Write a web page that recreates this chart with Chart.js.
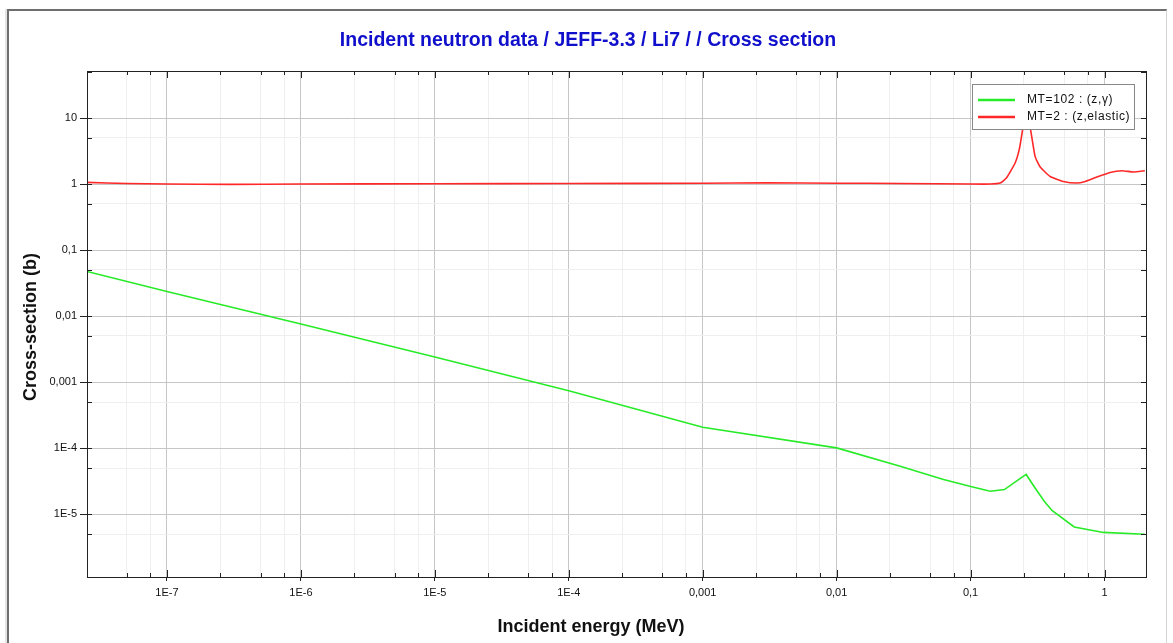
<!DOCTYPE html>
<html lang="en">
<head>
    <meta charset="UTF-8">
    <title>Incident neutron data / JEFF-3.3 / Li7 / / Cross section</title>
    <script src="https://cdn.jsdelivr.net/npm/chart.js"></script>
    <style>
        body {
            margin: 0;
            background-color: #fff;
        }
        .wrap {
            position: relative;
            width: 1173px;
            height: 643px;
            overflow: hidden;
        }
        .frame {
            position: absolute;
            left: 7px;
            top: 9px;
            width: 1157px;
            height: 700px;
            border-top: 2px solid #6e6e6e;
            border-left: 2px solid #6e6e6e;
            border-right: 1px solid #d4d4d4;
            box-shadow: -2px 0 0 #e4e4e4;
        }
        canvas {
            position: absolute;
            left: 0;
            top: 0;
        }
    </style>
</head>
<body>
    <div class="wrap">
        <div class="frame"></div>
        <canvas id="xsChart" width="1173" height="643"></canvas>
    </div>

    <script>
        const chartTitle = 'Incident neutron data / JEFF-3.3 / Li7 / / Cross section';
        const xTitle = 'Incident energy (MeV)';
        const yTitle = 'Cross-section (b)';

        // MT=102 : (z,gamma)
        const captureEnergy = [2.53e-8, 1e-7, 1e-6, 1e-5, 1e-4, 1e-3, 1e-2, 0.0298, 0.0628, 0.102, 0.140,
            0.179, 0.228, 0.260, 0.303, 0.355, 0.405, 0.594, 0.98, 2.0];
        const captureXs = [0.0474, 0.0236, 0.0076, 0.0024, 7.4e-4, 2.08e-4, 1.01e-4, 5.33e-5, 3.35e-5, 2.6e-5, 2.23e-5,
            2.36e-5, 3.35e-5, 4.0e-5, 2.5e-5, 1.57e-5, 1.14e-5, 6.42e-6, 5.3e-6, 4.98e-6];

        // MT=2 : (z,elastic)
        const elasticEnergy = [2.53e-8, 5e-8, 1e-7, 3e-7, 1e-6, 1e-5, 1e-4, 1e-3, 3e-3, 1e-2, 3e-2, 0.1, 0.14,
            0.166, 0.185, 0.215, 0.232, 0.246, 0.262, 0.279, 0.303, 0.331, 0.393, 0.492, 0.622, 0.718, 0.877,
            1.10, 1.35, 1.64, 2.0];
        const elasticXs = [1.06, 1.02, 1.0, 0.99, 1.0, 1.01, 1.02, 1.03, 1.04, 1.03, 1.02, 1.0, 1.0,
            1.035, 1.23, 2.08, 3.5, 7.1, 12, 7.1, 2.62, 1.81, 1.30, 1.095, 1.035, 1.095, 1.28,
            1.50, 1.59, 1.52, 1.59];

        const seriesLabels = ['MT=102 : (z,\u03b3)', 'MT=2 : (z,elastic)'];
        const seriesColors = ['rgb(40,235,40)', 'rgb(255,40,40)'];

        // axis ticks
        const xMajorTicks = [1e-7, 1e-6, 1e-5, 1e-4, 1e-3, 1e-2, 1e-1, 1];
        const xTickLabels = ['1E-7', '1E-6', '1E-5', '1E-4', '0,001', '0,01', '0,1', '1'];
        const xMinorMantissa = [2.5, 5, 7.5];
        const yMajorTicks = [1e-5, 1e-4, 1e-3, 1e-2, 1e-1, 1, 10];
        const yTickLabels = ['1E-5', '1E-4', '0,001', '0,01', '0,1', '1', '10'];
        const yMinorMantissa = [5];

        const xMin = 2.53e-8, xMax = 2.04;
        const yMin = 1.12e-6, yMax = 51.5;

        function minorTicks(mantissas, lo, hi) {
            const out = [];
            for (let e = Math.floor(Math.log10(lo)); e <= Math.ceil(Math.log10(hi)); e++) {
                mantissas.forEach(m => {
                    const v = m * Math.pow(10, e);
                    if (v > lo && v < hi) out.push(v);
                });
            }
            return out;
        }

        const xMinor = minorTicks(xMinorMantissa, xMin, xMax);
        const yMinor = minorTicks(yMinorMantissa, yMin, yMax);

        const isMajor = v => Math.abs(Math.log10(v) - Math.round(Math.log10(v))) < 1e-6;

        function labelFor(value, majors, labels) {
            const i = majors.findIndex(m => Math.abs(Math.log10(m) - Math.log10(value)) < 1e-6);
            return i >= 0 ? labels[i] : '';
        }

        const fontFamily = '"Liberation Sans", Arial, sans-serif';

        const decor = {
            id: 'decor',
            afterDraw(chart) {
                const ctx = chart.ctx;
                const a = chart.chartArea;
                const xs = chart.scales.x, ys = chart.scales.y;
                ctx.save();

                // frame of the plot
                ctx.strokeStyle = '#222';
                ctx.lineWidth = 1;
                ctx.strokeRect(Math.round(a.left) + 0.5, Math.round(a.top) + 0.5,
                    Math.round(a.right - a.left), Math.round(a.bottom - a.top));

                // inner tick marks on all four sides
                ctx.beginPath();
                xs.ticks.forEach(t => {
                    const px = Math.round(xs.getPixelForValue(t.value)) + 0.5;
                    const len = isMajor(t.value) ? 7 : 4;
                    ctx.moveTo(px, a.bottom); ctx.lineTo(px, a.bottom - len);
                    ctx.moveTo(px, a.top); ctx.lineTo(px, a.top + len);
                });
                ys.ticks.forEach(t => {
                    const py = Math.round(ys.getPixelForValue(t.value)) + 0.5;
                    ctx.moveTo(a.left, py); ctx.lineTo(a.left + 5, py);
                    ctx.moveTo(a.right, py); ctx.lineTo(a.right - 5, py);
                });
                ctx.stroke();

                // legend box
                const bx = a.right - 174, by = a.top + 13, bw = 162, bh = 45;
                ctx.fillStyle = '#fff';
                ctx.fillRect(bx, by, bw, bh);
                ctx.strokeStyle = '#888';
                ctx.strokeRect(bx + 0.5, by + 0.5, bw, bh);
                ctx.font = '12px ' + fontFamily;
                ctx.letterSpacing = '0.6px';
                ctx.textBaseline = 'middle';
                ctx.textAlign = 'left';
                chart.data.datasets.forEach((ds, i) => {
                    const ly = by + 16 + i * 17;
                    ctx.strokeStyle = ds.borderColor;
                    ctx.lineWidth = 2.5;
                    ctx.beginPath();
                    ctx.moveTo(bx + 6, ly); ctx.lineTo(bx + 43, ly);
                    ctx.stroke();
                    ctx.fillStyle = '#111';
                    ctx.fillText(ds.label, bx + 55, ly);
                });
                ctx.letterSpacing = '0px';

                // titles
                ctx.textAlign = 'center';
                ctx.fillStyle = '#1010cc';
                ctx.font = 'bold 19.5px ' + fontFamily;
                ctx.fillText(chartTitle, 588, 41);

                ctx.fillStyle = '#111';
                ctx.font = 'bold 18px ' + fontFamily;
                ctx.fillText(xTitle, 591, 627);

                ctx.translate(31, (a.top + a.bottom) / 2 + 3);
                ctx.rotate(-Math.PI / 2);
                ctx.fillText(yTitle, 0, 0);
                ctx.restore();
            }
        };

        const toPoints = (xsArr, ysArr) => xsArr.map((x, i) => ({ x, y: ysArr[i] }));

        new Chart(document.getElementById('xsChart'), {
            type: 'line',
            data: {
                datasets: [{
                    label: seriesLabels[0],
                    data: toPoints(captureEnergy, captureXs),
                    borderColor: seriesColors[0],
                    borderWidth: 1.6,
                    pointRadius: 0,
                    tension: 0
                }, {
                    label: seriesLabels[1],
                    data: toPoints(elasticEnergy, elasticXs),
                    borderColor: seriesColors[1],
                    borderWidth: 1.6,
                    pointRadius: 0,
                    tension: 0.15
                }]
            },
            options: {
                responsive: false,
                animation: false,
                events: [],
                layout: { padding: { top: 71, right: 27, bottom: 0, left: 0 } },
                plugins: {
                    legend: { display: false },
                    title: { display: false },
                    tooltip: { enabled: false }
                },
                scales: {
                    x: {
                        type: 'logarithmic',
                        min: xMin,
                        max: xMax,
                        border: { display: false },
                        afterFit: s => { s.height = 66; },
                        afterBuildTicks: s => {
                            s.ticks = [...xMajorTicks, ...xMinor].sort((p, q) => p - q).map(v => ({ value: v }));
                        },
                        grid: {
                            color: c => (c.tick && isMajor(c.tick.value)) ? '#c6c6c6' : '#efefef',
                            tickColor: c => (c.tick && isMajor(c.tick.value)) ? '#222' : 'rgba(0,0,0,0)',
                            tickLength: 4
                        },
                        ticks: {
                            autoSkip: false,
                            maxRotation: 0,
                            padding: 5,
                            color: '#111',
                            font: { family: fontFamily, size: 11 },
                            callback: v => labelFor(v, xMajorTicks, xTickLabels)
                        }
                    },
                    y: {
                        type: 'logarithmic',
                        min: yMin,
                        max: yMax,
                        border: { display: false },
                        afterFit: s => { s.width = 87; },
                        afterBuildTicks: s => {
                            s.ticks = [...yMajorTicks, ...yMinor].sort((p, q) => p - q).map(v => ({ value: v }));
                        },
                        grid: {
                            color: c => (c.tick && isMajor(c.tick.value)) ? '#c6c6c6' : '#efefef',
                            tickColor: c => (c.tick && isMajor(c.tick.value)) ? '#222' : 'rgba(0,0,0,0)',
                            tickLength: 7
                        },
                        ticks: {
                            autoSkip: false,
                            padding: 3,
                            color: '#111',
                            font: { family: fontFamily, size: 11 },
                            callback: v => labelFor(v, yMajorTicks, yTickLabels)
                        }
                    }
                }
            },
            plugins: [decor]
        });
    </script>
</body>
</html>
